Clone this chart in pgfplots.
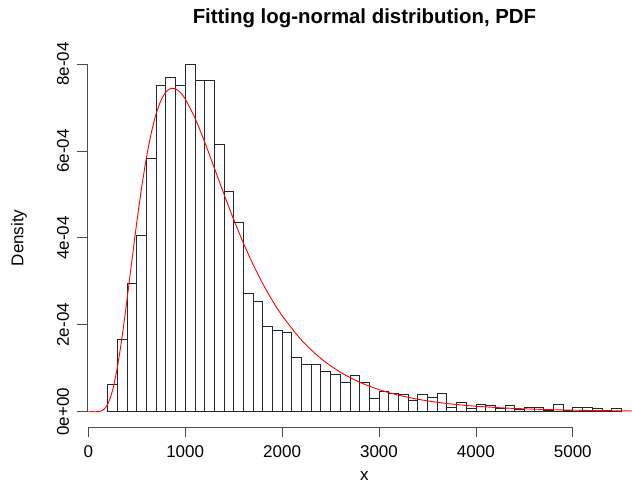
\documentclass[border=0pt]{standalone}
\usepackage{pgfplots}
\pgfplotsset{compat=1.18}
\usepackage{fontspec}
\setmainfont{Liberation Sans}

% histogram densities, left bin edges (width 100); last row closes the interval
\pgfplotstableread{
x dens
200 0.62e-4
300 1.66e-4
400 2.95e-4
500 4.06e-4
600 5.84e-4
700 7.50e-4
800 7.70e-4
900 7.50e-4
1000 8.00e-4
1100 7.62e-4
1200 7.62e-4
1300 6.15e-4
1400 5.06e-4
1500 4.36e-4
1600 2.72e-4
1700 2.55e-4
1800 1.96e-4
1900 1.88e-4
2000 1.83e-4
2100 1.24e-4
2200 1.10e-4
2300 1.10e-4
2400 0.93e-4
2500 0.87e-4
2600 0.68e-4
2700 0.84e-4
2800 0.67e-4
2900 0.30e-4
3000 0.46e-4
3100 0.42e-4
3200 0.40e-4
3300 0.26e-4
3400 0.40e-4
3500 0.32e-4
3600 0.43e-4
3700 0.11e-4
3800 0.22e-4
3900 0.07e-4
4000 0.18e-4
4100 0.15e-4
4200 0.08e-4
4300 0.15e-4
4400 0.05e-4
4500 0.09e-4
4600 0.09e-4
4700 0.02e-4
4800 0.16e-4
4900 0.02e-4
5000 0.10e-4
5100 0.10e-4
5200 0.07e-4
5300 0.02e-4
5400 0.07e-4
5500 0.07e-4
}\histtab

% fitted log-normal density
\pgfplotstableread{
x pdf
0 0
50 0
100 0.002e-4
150 0.033e-4
200 0.168e-4
250 0.486e-4
300 1.019e-4
350 1.737e-4
400 2.580e-4
450 3.471e-4
500 4.344e-4
550 5.145e-4
600 5.841e-4
650 6.411e-4
700 6.849e-4
750 7.160e-4
800 7.352e-4
850 7.436e-4
900 7.429e-4
950 7.344e-4
1000 7.196e-4
1100 6.761e-4
1200 6.212e-4
1300 5.613e-4
1400 5.008e-4
1500 4.427e-4
1600 3.885e-4
1700 3.392e-4
1800 2.949e-4
1900 2.556e-4
2000 2.211e-4
2200 1.648e-4
2400 1.225e-4
2600 0.911e-4
2800 0.679e-4
3000 0.508e-4
3200 0.381e-4
3400 0.287e-4
3600 0.217e-4
3800 0.165e-4
4000 0.126e-4
4300 0.085e-4
4600 0.058e-4
5000 0.035e-4
5300 0.024e-4
5700 0.015e-4
}\pdftab

\begin{document}
\begin{tikzpicture}
\begin{axis}[
    scale only axis,
    width=554.7pt, height=378.2pt,
    xmin=-12, xmax=5712,
    ymin=-0.352e-4, ymax=8.35e-4,
    axis x line*=bottom, axis y line*=left,
    axis line style={draw=none},
    clip=false,
    scaled y ticks=false,
    tick align=outside,
    major tick length=10pt,
    tick style={black!70, line width=0.7pt},
    xtick={0,1000,2000,3000,4000,5000},
    xticklabels={0,1000,2000,3000,4000,5000},
    ytick={0,2e-4,4e-4,6e-4,8e-4},
    yticklabels={0e+00,2e-04,4e-04,6e-04,8e-04},
    ticklabel style={font=\fontsize{17}{20}\selectfont},
    xticklabel style={anchor=center, yshift=-15pt},
    yticklabel style={anchor=center, xshift=-14pt, rotate=90},
    xlabel={x},
    xlabel style={font=\fontsize{17}{20}\selectfont, at={(axis description cs:0.5,0)}, anchor=center, yshift=-49pt},
    ylabel={Density},
    ylabel style={font=\fontsize{17}{20}\selectfont, at={(axis description cs:-0.1226,0.5)}, anchor=center},
    title={Fitting log-normal distribution, PDF},
    title style={font=\fontsize{20.4}{24}\selectfont\bfseries, at={(axis description cs:0.5,1)}, anchor=center, yshift=24.8pt},
]
\addplot[ybar interval, draw=black!85, line width=0.7pt, fill=white] table[x=x, y=dens] {\histtab};
\addplot[red, line width=0.9pt, smooth, no marks] table[x=x, y=pdf] {\pdftab};
\draw[black!70, line width=0.7pt] (axis cs:0,-0.352e-4) -- (axis cs:5000,-0.352e-4);
\draw[black!70, line width=0.7pt] (axis cs:-12,0) -- (axis cs:-12,8e-4);
\end{axis}
\pgfresetboundingbox
\useasboundingbox (-87.1pt,-59pt) rectangle (544.9pt,427pt);
\end{tikzpicture}
\end{document}
